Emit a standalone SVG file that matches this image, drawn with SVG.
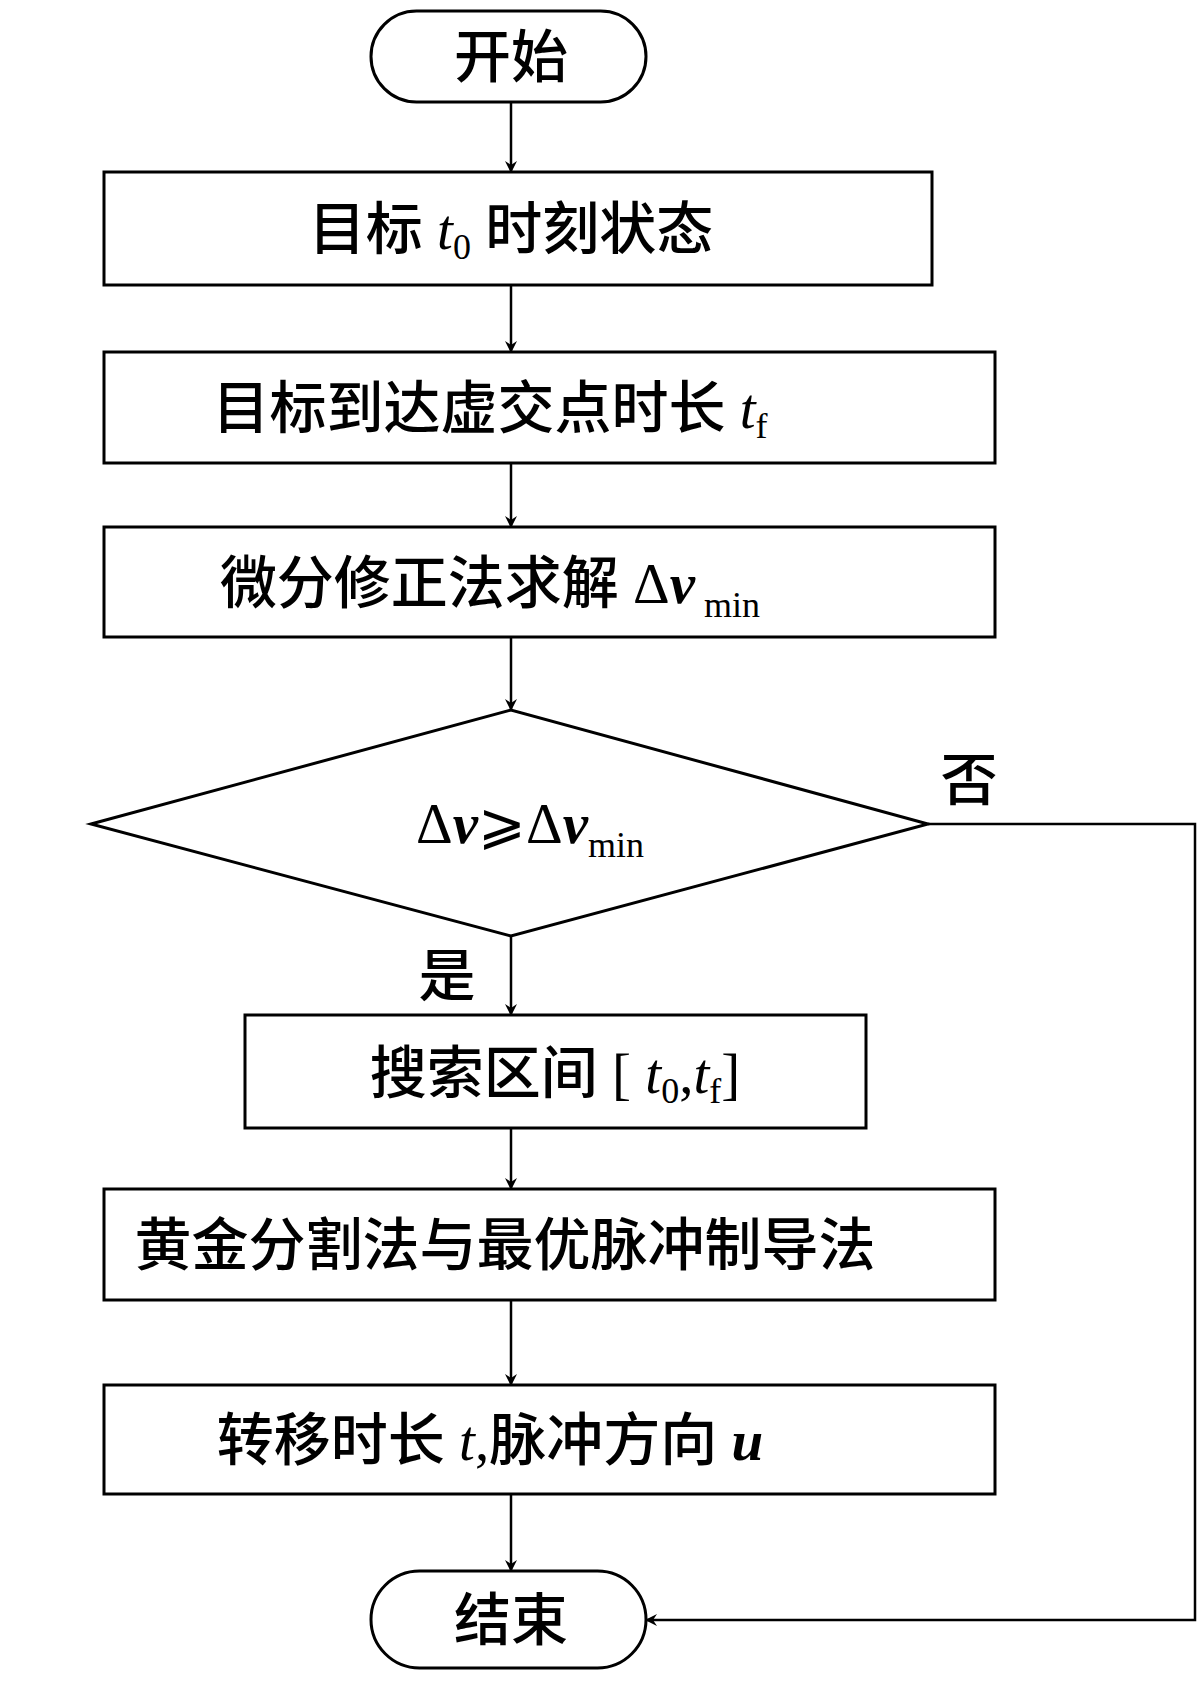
<svg xmlns="http://www.w3.org/2000/svg" width="1200" height="1688" viewBox="0 0 1200 1688">
<style>
.s{fill:#fff;stroke:#000;stroke-width:3}
.t{font-family:"Liberation Serif","Noto Sans CJK SC",serif;font-size:57px;text-anchor:middle;font-weight:500}
.l{stroke:#000;stroke-width:2.5;fill:none}
</style>
<defs><marker id="a" markerWidth="12" markerHeight="12" refX="11" refY="6" orient="auto" markerUnits="userSpaceOnUse"><path d="M0,0L12,6L0,12L4,6Z" fill="#000"/></marker></defs>
<rect width="1200" height="1688" fill="#fff"/>
<g id="connectors">
<line class="l" x1="511" y1="102" x2="511" y2="172" marker-end="url(#a)"/>
<line class="l" x1="511" y1="285" x2="511" y2="352" marker-end="url(#a)"/>
<line class="l" x1="511" y1="463" x2="511" y2="527" marker-end="url(#a)"/>
<line class="l" x1="511" y1="637" x2="511" y2="710" marker-end="url(#a)"/>
<line class="l" x1="511" y1="936" x2="511" y2="1015" marker-end="url(#a)"/>
<line class="l" x1="511" y1="1128" x2="511" y2="1189" marker-end="url(#a)"/>
<line class="l" x1="511" y1="1300" x2="511" y2="1385" marker-end="url(#a)"/>
<line class="l" x1="511" y1="1494" x2="511" y2="1571" marker-end="url(#a)"/>
<polyline class="l" points="928,824 1195,824 1195,1620 646,1620" marker-end="url(#a)"/>
<text class="t" x="969" y="800">否</text>
<text class="t" x="447" y="996">是</text>
</g>
<g id="start"><rect class="s" x="371" y="11" width="275" height="91" rx="45.5"/><text class="t" x="511" y="77">开始</text></g>
<g id="n1"><rect class="s" x="104" y="172" width="828" height="113"/><text class="t" x="511" y="249">目标 <tspan font-style="italic">t</tspan><tspan font-size="36" dy="10">0</tspan><tspan dy="-10"> 时刻状态</tspan></text></g>
<g id="n2"><rect class="s" x="104" y="352" width="891" height="111"/><text class="t" x="490" y="428">目标到达虚交点时长 <tspan font-style="italic">t</tspan><tspan font-size="36" dy="10">f</tspan></text></g>
<g id="n3"><rect class="s" x="104" y="527" width="891" height="110"/><text class="t" x="490" y="603">微分修正法求解 Δ<tspan font-weight="bold" font-style="italic">v</tspan><tspan font-size="36" dy="14"> min</tspan></text></g>
<g id="d"><polygon class="s" points="91,824 511,710 928,824 511,936"/><text class="t" x="530" y="843">Δ<tspan font-weight="bold" font-style="italic">v</tspan>⩾Δ<tspan font-weight="bold" font-style="italic">v</tspan><tspan font-size="36" dy="14">min</tspan></text></g>
<g id="n4"><rect class="s" x="245" y="1015" width="621" height="113"/><text class="t" x="555" y="1093">搜索区间 [ <tspan font-style="italic">t</tspan><tspan font-size="36" dy="10">0</tspan><tspan dy="-10">,</tspan><tspan font-style="italic">t</tspan><tspan font-size="36" dy="10">f</tspan><tspan dy="-10">]</tspan></text></g>
<g id="n5"><rect class="s" x="104" y="1189" width="891" height="111"/><text class="t" x="505" y="1265">黄金分割法与最优脉冲制导法</text></g>
<g id="n6"><rect class="s" x="104" y="1385" width="891" height="109"/><text class="t" x="490" y="1460">转移时长 <tspan font-style="italic">t</tspan>,脉冲方向 <tspan font-weight="bold" font-style="italic">u</tspan></text></g>
<g id="end"><rect class="s" x="371" y="1571" width="275" height="97" rx="48.5"/><text class="t" x="511" y="1640">结束</text></g>
</svg>
